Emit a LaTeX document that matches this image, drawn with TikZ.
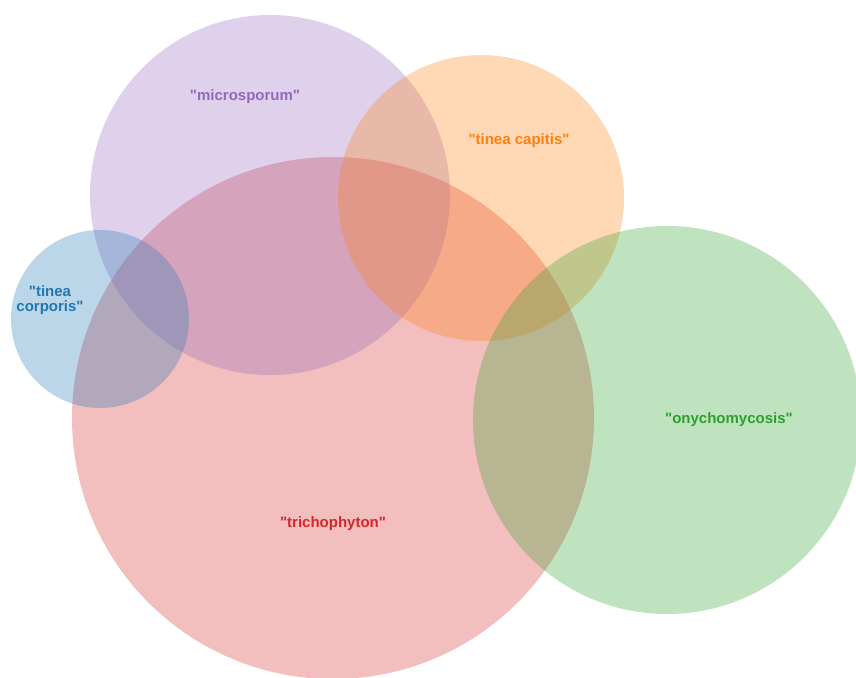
\documentclass[tikz,border=0pt]{standalone}
\usepackage{fontspec}
\setmainfont{Liberation Sans}
\usepackage{tikz}
\usetikzlibrary{positioning}
\usepackage{xcolor}
\definecolor{setblue}{HTML}{1F77B4}
\definecolor{setorange}{HTML}{FF7F0E}
\definecolor{setgreen}{HTML}{2CA02C}
\definecolor{setred}{HTML}{D62728}
\definecolor{setpurple}{HTML}{9467BD}
\newcommand{\qq}[1]{\textquotedbl#1\textquotedbl}

\begin{document}
\begin{tikzpicture}[
    x=1pt, y=-1pt,
    set/.style={circle, inner sep=0pt, fill opacity=0.3, draw=none},
    setlabel/.style={align=center, font=\fontsize{15}{15}\selectfont\bfseries, inner sep=0pt}
]
    \useasboundingbox (0,0) rectangle (856,677);
    % sets
    \node[set, fill=setred, minimum size=522pt] (trichophyton) at (333,418) {};
    \node[set, fill=setpurple, minimum size=360pt] (microsporum) at (270,195) {};
    \node[set, fill=setorange, minimum size=286pt] (capitis) at (481,198) {};
    \node[set, fill=setblue, minimum size=178pt] (corporis) at (100,319) {};
    \node[set, fill=setgreen, minimum size=388pt] (onycho) at (667,420) {};

    % labels
    \node[setlabel, text=setred] (trichophytonlabel) at (333,524) {\qq{trichophyton}};
    \node[setlabel, text=setpurple] (microsporumlabel) at (245,97) {\qq{microsporum}};
    \node[setlabel, text=setorange] (capitislabel) at (519,141) {\qq{tinea capitis}};
    \node[setlabel, text=setblue] (corporislabel) at (50,300) {\qq{tinea\\corporis}};
    \node[setlabel, text=setgreen] (onycholabel) at (729,420) {\qq{onychomycosis}};
\end{tikzpicture}
\end{document}
